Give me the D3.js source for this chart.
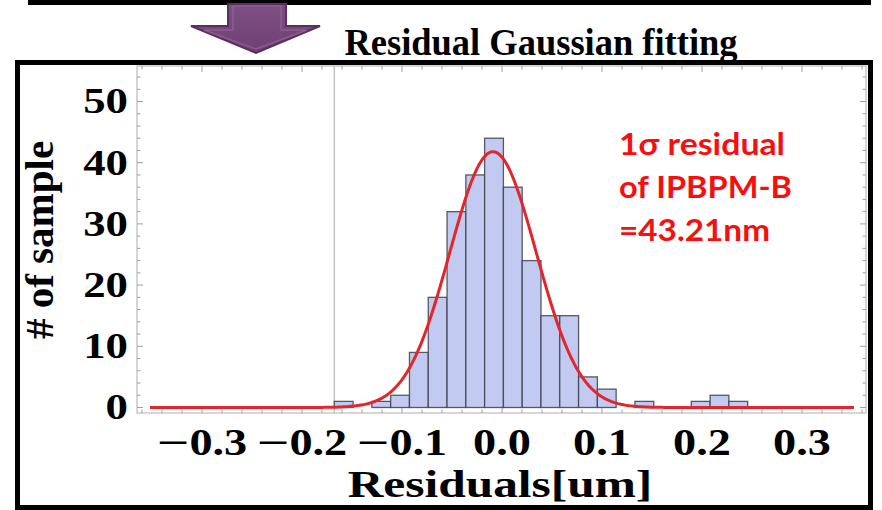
<!DOCTYPE html>
<html>
<head>
<meta charset="utf-8">
<script src="https://cdn.jsdelivr.net/npm/d3@7"></script>
<style>
  html, body { margin: 0; padding: 0; background: #fff; }
  svg { display: block; }
</style>
</head>
<body>
<svg id="chart" width="882" height="510"></svg>
<script>
// Histogram of residuals: bins start at binStart and are binWidth wide
const binStart = -0.1677;
const binWidth = 0.01879;
const binCounts = [1, 0, 1, 2, 9, 18, 32, 38, 44, 36, 24, 15, 15, 5, 3, 0, 1, 0, 0, 1, 2, 1];

// Gaussian fit (sigma = 43.21 nm = 0.04321 um)
const fitMean = -0.009;
const fitSigma = 0.04321;
const fitPeak = 41.8;
const fitRange = [-0.352, 0.352];

// Axis ticks
const xMajorTicks = [-0.3, -0.2, -0.1, 0.0, 0.1, 0.2, 0.3];
const xTickLabels = ["\u22120.3", "\u22120.2", "\u22120.1", "0.0", "0.1", "0.2", "0.3"];
const yMajorTicks = [0, 10, 20, 30, 40, 50];
const yTickLabels = ["0", "10", "20", "30", "40", "50"];

const titleText = "Residual Gaussian fitting";
const xTitle = "Residuals[um]";
const yTitle = "# of sample";
const noteLines = ["1\u03c3 residual", "of IPBPM-B", "=43.21nm"];

const svg = d3.select("#chart");

// Plot frame geometry
const frame = { left: 137, right: 866, top: 66, bottom: 413 };
const x = d3.scaleLinear().domain([-0.365, 0.364]).range([frame.left, frame.right]);
const y = d3.scaleLinear().domain([-0.9, 55.8]).range([frame.bottom, frame.top]);

// Top separator line
svg.append("rect").attr("x", 28).attr("y", 0).attr("width", 843).attr("height", 5).attr("fill", "#000");

// Down arrow
const defs = svg.append("defs");
const grad = defs.append("linearGradient").attr("id", "arrowGrad").attr("x1", 0).attr("y1", 0).attr("x2", 0).attr("y2", 1);
grad.append("stop").attr("offset", "0%").attr("stop-color", "#7e4f82");
grad.append("stop").attr("offset", "100%").attr("stop-color", "#6f4173");
const arrowPts = [[228, 4], [286, 4], [286, 26], [320, 26], [256, 53], [191, 26], [228, 26]];
svg.append("polygon")
  .attr("points", arrowPts.map(p => p.join(",")).join(" "))
  .attr("fill", "url(#arrowGrad)")
  .attr("stroke", "#5a2f5d").attr("stroke-width", 2).attr("stroke-linejoin", "miter");
const innerPts = [[233, 6], [281, 6], [281, 30], [307, 30], [256, 49], [204, 30], [233, 30]];
svg.append("polygon")
  .attr("points", innerPts.map(p => p.join(",")).join(" "))
  .attr("fill", "none").attr("stroke", "#93679a").attr("stroke-width", 1.5).attr("opacity", 0.7);

const serif = "'Liberation Serif', 'Times New Roman', serif";

// Title
svg.append("text")
  .attr("transform", "translate(541,55) scale(0.96,1)")
  .attr("text-anchor", "middle")
  .attr("font-family", serif)
  .attr("font-weight", "bold").attr("font-size", 38)
  .attr("fill", "#000")
  .text(titleText);

// Outer black box
svg.append("rect").attr("x", 17.5).attr("y", 62.5).attr("width", 853).attr("height", 445)
  .attr("fill", "none").attr("stroke", "#000").attr("stroke-width", 5);

const plot = svg.append("g");

// Frame
plot.append("rect")
  .attr("x", frame.left).attr("y", frame.top)
  .attr("width", frame.right - frame.left).attr("height", frame.bottom - frame.top)
  .attr("fill", "none").attr("stroke", "#c9c9c9").attr("stroke-width", 1.5);

// Frame ticks (inward, on all four sides)
const xMinor = d3.range(-36, 37, 2).map(v => v / 100);
const yMinor = d3.range(0, 56, 2);
const tickColor = "#a0a0a0";
xMinor.forEach(v => {
  const major = xMajorTicks.some(t => Math.abs(t - v) < 1e-6);
  const len = major ? 6 : 3.5;
  plot.append("line").attr("x1", x(v)).attr("x2", x(v)).attr("y1", frame.bottom).attr("y2", frame.bottom - len)
    .attr("stroke", tickColor).attr("stroke-width", 1);
  plot.append("line").attr("x1", x(v)).attr("x2", x(v)).attr("y1", frame.top).attr("y2", frame.top + len)
    .attr("stroke", tickColor).attr("stroke-width", 1);
});
yMinor.forEach(v => {
  const major = yMajorTicks.includes(v);
  const len = major ? 6 : 3.5;
  plot.append("line").attr("y1", y(v)).attr("y2", y(v)).attr("x1", frame.left).attr("x2", frame.left + len)
    .attr("stroke", tickColor).attr("stroke-width", 1);
  plot.append("line").attr("y1", y(v)).attr("y2", y(v)).attr("x1", frame.right).attr("x2", frame.right - len)
    .attr("stroke", tickColor).attr("stroke-width", 1);
});

// Vertical axis line at the start of the histogram range
plot.append("line")
  .attr("x1", x(binStart)).attr("x2", x(binStart))
  .attr("y1", frame.top).attr("y2", frame.bottom)
  .attr("stroke", "#c4c4c4").attr("stroke-width", 1.5);

// Bars
const bins = binCounts.map((c, i) => ({ x0: binStart + i * binWidth, x1: binStart + (i + 1) * binWidth, count: c }))
  .filter(b => b.count > 0);
plot.append("g").selectAll("rect").data(bins).join("rect")
  .attr("x", d => x(d.x0))
  .attr("y", d => y(d.count))
  .attr("width", d => x(d.x1) - x(d.x0))
  .attr("height", d => y(0) - y(d.count))
  .attr("fill", "#c2caf1")
  .attr("stroke", "#3d3f4c").attr("stroke-opacity", 0.85).attr("stroke-width", 1.3);

// Gaussian fit curve
const curvePts = d3.range(0, 401).map(i => {
  const xv = fitRange[0] + (fitRange[1] - fitRange[0]) * i / 400;
  return [xv, fitPeak * Math.exp(-((xv - fitMean) ** 2) / (2 * fitSigma * fitSigma))];
});
plot.append("path")
  .datum(curvePts)
  .attr("d", d3.line().x(d => x(d[0])).y(d => y(d[1])))
  .attr("fill", "none").attr("stroke", "#e3262b").attr("stroke-width", 3)
  .attr("stroke-linejoin", "round");

// X tick labels: the minus sign is drawn a little longer than the digits' stretch
const numStretch = 1.25, minusStretch = 1.55;
xMajorTicks.forEach((v, i) => {
  const label = xTickLabels[i];
  const g = svg.append("g").attr("transform", `translate(${x(v)},455)`);
  const neg = label.startsWith("\u2212");
  const num = g.append("text")
    .attr("font-family", serif).attr("font-weight", "bold").attr("font-size", 37)
    .attr("fill", "#000")
    .text(neg ? label.slice(1) : label);
  const numW = num.node().getComputedTextLength() * numStretch;
  let minusW = 0, minus = null;
  if (neg) {
    minus = g.append("text")
      .attr("font-family", serif).attr("font-weight", "bold").attr("font-size", 37)
      .attr("fill", "#000").text("\u2212");
    minusW = minus.node().getComputedTextLength() * minusStretch;
  }
  const start = -(minusW + numW) / 2;
  if (minus) minus.attr("transform", `translate(${start},0) scale(${minusStretch},1)`);
  num.attr("transform", `translate(${start + minusW},0) scale(${numStretch},1)`);
});

// Y tick labels
yMajorTicks.forEach((v, i) => {
  svg.append("text")
    .attr("transform", `translate(128,${y(v) + 12}) scale(1.28,1)`)
    .attr("text-anchor", "end")
    .attr("font-family", serif).attr("font-weight", "bold").attr("font-size", 35)
    .attr("fill", "#000")
    .text(yTickLabels[i]);
});

// Axis titles
svg.append("text")
  .attr("transform", "translate(500,497) scale(1.3,1)")
  .attr("text-anchor", "middle")
  .attr("font-family", serif).attr("font-weight", "bold").attr("font-size", 38)
  .attr("fill", "#000")
  .text(xTitle);
svg.append("text")
  .attr("transform", "translate(53,240) rotate(-90)")
  .attr("text-anchor", "middle")
  .attr("font-family", serif).attr("font-weight", "bold").attr("font-size", 41)
  .attr("fill", "#000")
  .text(yTitle);

// Annotation
const noteBaselines = [155, 197.5, 240.5];
const noteWidths = [166, 173, 151];
noteLines.forEach((t, i) => {
  svg.append("text")
    .attr("x", 619).attr("y", noteBaselines[i])
    .attr("font-family", "Lato, 'Open Sans', sans-serif").attr("font-weight", "bold").attr("font-size", 31)
    .attr("fill", "#f70f0f")
    .attr("textLength", noteWidths[i]).attr("lengthAdjust", "spacingAndGlyphs")
    .text(t);
});
</script>
</body>
</html>
